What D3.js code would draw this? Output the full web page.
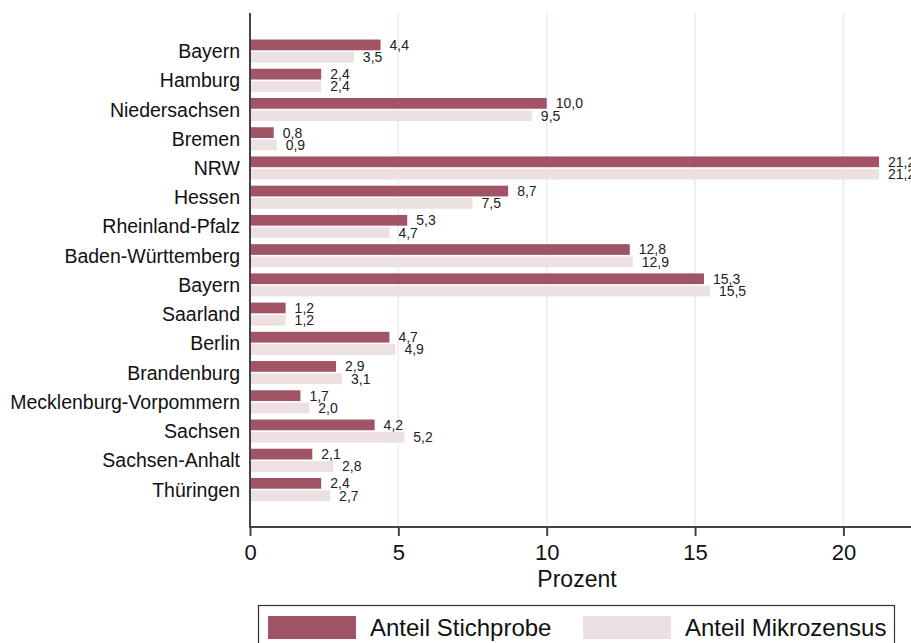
<!DOCTYPE html>
<html>
<head>
<meta charset="utf-8">
<script src="https://cdn.jsdelivr.net/npm/d3@7"></script>
<style>
  body { margin: 0; background: #fff; }
  svg { display: block; font-family: "Liberation Sans", Arial, sans-serif; }
</style>
</head>
<body>
<script>
// data
var states = ['Bayern', 'Hamburg', 'Niedersachsen', 'Bremen', 'NRW', 'Hessen',
  'Rheinland-Pfalz', 'Baden-Württemberg', 'Bayern', 'Saarland', 'Berlin',
  'Brandenburg', 'Mecklenburg-Vorpommern', 'Sachsen', 'Sachsen-Anhalt', 'Thüringen'];
var stichprobe = [4.4, 2.4, 10.0, 0.8, 21.2, 8.7, 5.3, 12.8, 15.3, 1.2, 4.7, 2.9, 1.7, 4.2, 2.1, 2.4];
var mikrozensus = [3.5, 2.4, 9.5, 0.9, 21.2, 7.5, 4.7, 12.9, 15.5, 1.2, 4.9, 3.1, 2.0, 5.2, 2.8, 2.7];
var seriesNames = ['Anteil Stichprobe', 'Anteil Mikrozensus'];
var xTicks = [0, 5, 10, 15, 20];

var w = 911, h = 643;
var colors = ['#a05465', '#ede0e3'];

var svg = d3.select('body').append('svg')
  .attr('width', w)
  .attr('height', h);

var x = d3.scaleLinear()
  .domain([0, 20])
  .range([250, 843.4]);

var y = d3.scaleBand()
  .domain(d3.range(states.length))
  .range([33.4, 507.2])
  .padding(0.21);

var inner = d3.scaleBand()
  .domain([0, 1])
  .range([0, y.bandwidth()])
  .paddingInner(0.13);

// grid lines
svg.append('g')
  .selectAll('line')
  .data(xTicks.filter(d => d > 0))
  .enter().append('line')
    .attr('x1', d => x(d)).attr('x2', d => x(d))
    .attr('y1', 13).attr('y2', 527)
    .attr('stroke', '#e5eef1')
    .attr('stroke-width', 1.5);

var rows = states.map((s, i) => ({i: i, name: s, vals: [stichprobe[i], mikrozensus[i]]}));

var row = svg.selectAll('.row')
  .data(rows)
  .enter().append('g')
  .attr('class', 'row')
  .attr('transform', d => `translate(0,${y(d.i)})`);

row.selectAll('rect')
  .data(d => d.vals.map((v, k) => ({k: k, v: v})))
  .enter().append('rect')
    .attr('x', x(0))
    .attr('y', d => inner(d.k))
    .attr('width', d => x(d.v) - x(0))
    .attr('height', inner.bandwidth())
    .attr('fill', d => colors[d.k]);

row.selectAll('.val')
  .data(d => d.vals.map((v, k) => ({k: k, v: v})))
  .enter().append('text')
    .attr('class', 'val')
    .attr('x', d => x(d.v) + 9)
    .attr('y', d => inner(d.k) + inner.bandwidth() / 2)
    .attr('dy', '0.35em')
    .style('font-size', '14px')
    .attr('fill', '#222')
    .text(d => d3.format('.1f')(d.v).replace('.', ','));

// category labels
row.append('text')
  .attr('x', 240)
  .attr('y', y.bandwidth() / 2)
  .attr('dy', '0.36em')
  .attr('text-anchor', 'end')
  .style('font-size', '19.5px')
  .attr('fill', '#111')
  .text(d => d.name);

// axes
var xAxis = d3.axisBottom(x)
  .tickValues(xTicks)
  .tickSize(9)
  .tickPadding(8)
  .tickFormat(d3.format('d'));

var gx = svg.append('g')
  .attr('transform', 'translate(0,527)')
  .call(xAxis);
gx.select('.domain').remove();
gx.append('line')
  .attr('x1', 249).attr('x2', w)
  .attr('stroke', '#444').attr('stroke-width', 2);
gx.selectAll('.tick line').attr('stroke', '#444').attr('stroke-width', 2);
gx.selectAll('.tick text')
  .style('font-size', '22px')
  .style('font-family', '"Liberation Sans", Arial, sans-serif')
  .attr('fill', '#111');

svg.append('line')
  .attr('x1', 250).attr('x2', 250)
  .attr('y1', 13).attr('y2', 528)
  .attr('stroke', '#444').attr('stroke-width', 2);

svg.append('text')
  .attr('x', 577)
  .attr('y', 587)
  .attr('text-anchor', 'middle')
  .style('font-size', '23px')
  .attr('fill', '#111')
  .text('Prozent');

// legend
var legend = svg.append('g').attr('id', 'legend');
legend.append('rect')
  .attr('x', 258.5).attr('y', 605.5)
  .attr('width', 636).attr('height', 60)
  .attr('fill', 'none')
  .attr('stroke', '#333').attr('stroke-width', 1.2);

var legX = [268, 583];
seriesNames.forEach((name, k) => {
  legend.append('rect')
    .attr('x', legX[k]).attr('y', 616)
    .attr('width', 88).attr('height', 23)
    .attr('fill', colors[k]);
  legend.append('text')
    .attr('x', legX[k] + 102)
    .attr('y', 636)
    .style('font-size', '24px')
    .attr('fill', '#111')
    .text(name);
});
</script>
</body>
</html>
